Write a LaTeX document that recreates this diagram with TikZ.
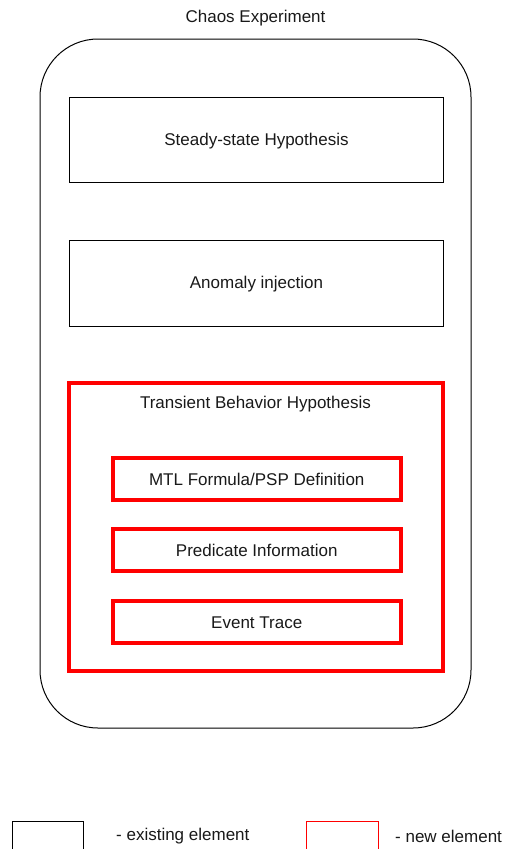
\documentclass[tikz,border=0pt]{standalone}
\usepackage{fontspec}
\setmainfont{Liberation Sans}
\begin{document}
\begin{tikzpicture}[x=1pt,y=-1pt,
  lbl/.style={font=\fontsize{17}{20}\selectfont, text=black!90, inner sep=0pt, yshift=-1pt},
  oldbox/.style={draw=black, line width=1pt},
  newbox/.style={draw=red, line width=3.5pt},
  newlegend/.style={draw=red, line width=1pt}]
\useasboundingbox (0,0) rectangle (504,849);
\clip (0,0) rectangle (504,849);
% outer container
\draw[line width=1pt, rounded corners=58pt] (40,39) rectangle (471,728);
\node[lbl] (title) at (255.5,17) {Chaos Experiment};
% existing steps
\node[oldbox, minimum width=374pt, minimum height=85pt, anchor=north west] (steady) at (69,97) {};
\node[lbl] at (steady.center) {Steady-state Hypothesis};
\node[oldbox, minimum width=374pt, minimum height=86pt, anchor=north west] (anomaly) at (69,240) {};
\node[lbl] at (anomaly.center) {Anomaly injection};
% transient behaviour hypothesis
\draw[newbox] (69,383) rectangle (443,671);
\node[lbl] (tbh) at (255.5,403) {Transient Behavior Hypothesis};
\node[newbox, minimum width=288pt, minimum height=42pt, anchor=north west] (mtl) at (111,456) {};
\node[lbl] at (mtl.center) {MTL Formula/PSP Definition};
\node[newbox, minimum width=288pt, minimum height=42pt, anchor=north west] (pred) at (111,527) {};
\node[lbl] at (pred.center) {Predicate Information};
\node[newbox, minimum width=288pt, minimum height=42pt, anchor=north west] (trace) at (111,599) {};
\node[lbl] at (trace.center) {Event Trace};
% legend
\draw[oldbox] (12,821) rectangle (83,860);
\node[lbl, anchor=west] (lold) at (116,835) {- existing element};
\draw[newlegend] (306,821) rectangle (378,860);
\node[lbl, anchor=west] (lnew) at (395,835) {- new element};
\end{tikzpicture}
\end{document}
